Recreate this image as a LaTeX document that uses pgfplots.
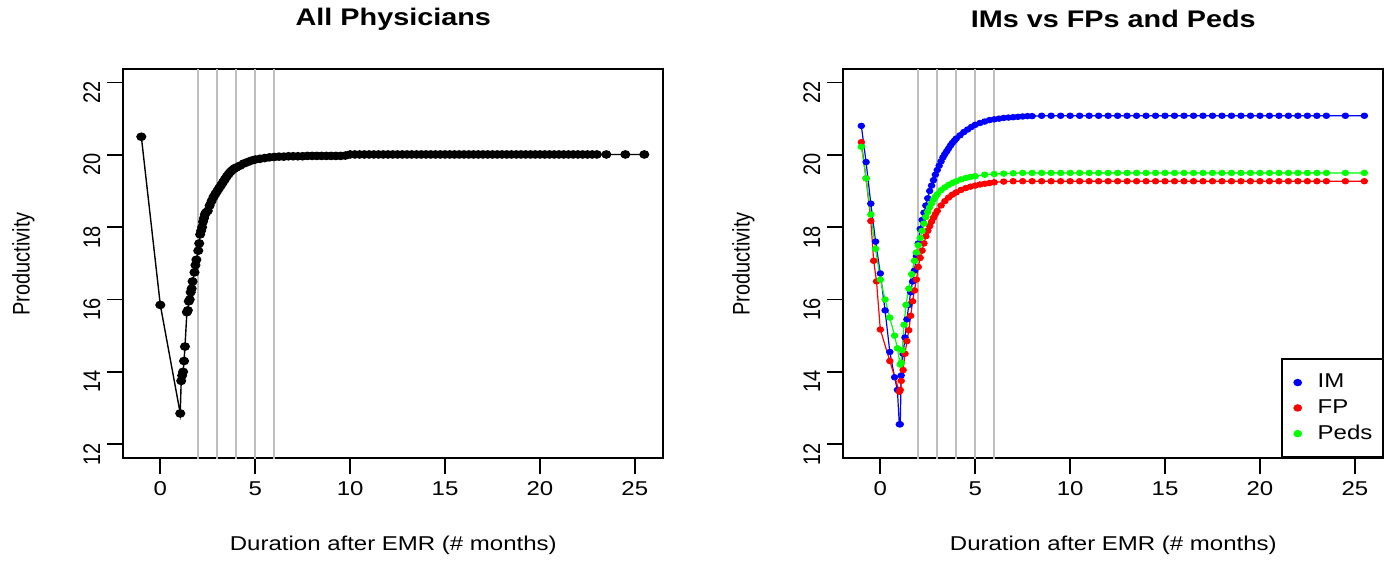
\documentclass[border=0pt]{standalone}
\usepackage{fontspec}
\setmainfont{Liberation Sans}
\usepackage{graphicx}
\usepackage{pgfplots}
\pgfplotsset{compat=1.18}

\definecolor{rblue}{RGB}{0,0,255}
\definecolor{rred}{RGB}{255,0,0}
\definecolor{rgreen}{RGB}{0,255,0}
\definecolor{rgray}{RGB}{190,190,190}

% the reference is stretched sideways a little
\newcommand{\hs}[1]{\scalebox{1.2}[1]{#1}}
\newcommand{\vs}[1]{\scalebox{1}[1.2]{#1}}

\pgfplotsset{
  rbase/.style={
    scale only axis, width=270pt, height=194.6pt,
    anchor=south west,
    xmin=-1.95, xmax=26.5, ymin=11.61, ymax=22.37,
    xtick={0,5,...,25}, ytick={12,14,...,22},
    tick align=outside, tick pos=left,
    major tick length=8pt,
    axis line style={line width=0.9pt},
    every tick/.style={line width=0.9pt, black},
    /pgf/number format/assume math mode=true,
    font=\fontsize{10}{12}\selectfont,
    xticklabel={\hs{\pgfmathprintnumber{\tick}}},
    yticklabel={\vs{\pgfmathprintnumber{\tick}}},
    yticklabel style={rotate=90, anchor=south, xshift=-5pt},
    every axis title/.style={at={(0.5,1)}, anchor=center, yshift=25pt,
      font=\bfseries\fontsize{12}{14}\selectfont},
    every axis x label/.style={at={(0.5,0)}, anchor=center, yshift=-43.5pt},
    every axis y label/.style={at={(0,0.5)}, anchor=center, xshift=-50pt, rotate=90},
    xlabel={\hs{Duration after EMR (\# months)}},
    ylabel={\vs{Productivity}},
  },
  vline/.style={rgray, line width=0.9pt, forget plot},
}

\begin{document}
\begin{tikzpicture}
\useasboundingbox (0,0) rectangle (698pt,280.5pt);

% ---- left: all physicians
\begin{axis}[rbase, at={(61.65pt,51.35pt)}, title={\hs{All Physicians}}]
\addplot[vline] coordinates {(2,10) (2,24)};
\addplot[vline] coordinates {(3,10) (3,24)};
\addplot[vline] coordinates {(4,10) (4,24)};
\addplot[vline] coordinates {(5,10) (5,24)};
\addplot[vline] coordinates {(6,10) (6,24)};
\addplot[black, line width=0.7pt, mark=*, mark size=1.8pt, mark options={xscale=1.2}] coordinates {
(-1,20.5) (0,15.85) (1.05,12.85) (1.1,13.75) (1.15,13.9) (1.2,14.0) (1.25,14.3) (1.3,14.7)
(1.4,15.65) (1.45,15.7) (1.5,15.95) (1.55,16.0) (1.6,16.2) (1.65,16.3) (1.7,16.5) (1.8,16.75)
(1.85,16.95) (1.9,17.1) (2.0,17.35) (2.05,17.55) (2.1,17.8) (2.15,17.9) (2.2,18.0) (2.25,18.15)
(2.3,18.25) (2.35,18.35) (2.4,18.4) (2.5,18.45) (2.6,18.6) (2.7,18.72) (2.8,18.83) (2.9,18.92)
(3.0,19.0) (3.1,19.08) (3.2,19.16) (3.3,19.24) (3.4,19.32) (3.5,19.4) (3.6,19.47) (3.7,19.53)
(3.8,19.58) (3.9,19.62) (4.0,19.65) (4.2,19.7) (4.4,19.76) (4.6,19.8) (4.8,19.84) (5.0,19.87)
(5.25,19.89) (5.5,19.91) (5.75,19.93) (6.0,19.94) (6.25,19.95) (6.5,19.95) (6.75,19.96) (7,19.96)
(7.25,19.96) (7.5,19.96) (7.75,19.97) (8,19.97) (8.25,19.97) (8.5,19.97) (8.75,19.97) (9,19.97)
(9.25,19.97) (9.5,19.97) (9.75,19.98) (10,20.01) (10.25,20.01) (10.5,20.01) (10.75,20.01) (11,20.01)
(11.25,20.01) (11.5,20.01) (11.75,20.01) (12,20.01) (12.25,20.01) (12.5,20.01) (12.75,20.01) (13,20.01)
(13.25,20.01) (13.5,20.01) (13.75,20.01) (14,20.01) (14.25,20.01) (14.5,20.01) (14.75,20.01) (15,20.01)
(15.25,20.01) (15.5,20.01) (15.75,20.01) (16,20.01) (16.25,20.01) (16.5,20.01) (16.75,20.01) (17,20.01)
(17.25,20.01) (17.5,20.01) (17.75,20.01) (18,20.01) (18.25,20.01) (18.5,20.01) (18.75,20.01) (19,20.01)
(19.25,20.01) (19.5,20.01) (19.75,20.01) (20,20.01) (20.25,20.01) (20.5,20.01) (20.75,20.01) (21,20.01)
(21.25,20.01) (21.5,20.01) (21.75,20.01) (22,20.01) (22.25,20.01) (22.5,20.01) (22.75,20.01) (23,20.01)
(23.5,20.01) (24.5,20.01) (25.5,20.01)
};
\end{axis}

% ---- right: IMs vs FPs and Peds
\begin{axis}[rbase, at={(421.65pt,51.35pt)}, title={\hs{IMs vs FPs and Peds}},
  legend style={at={(1,0)}, anchor=south east, draw=black, line width=0.9pt,
    font=\fontsize{10}{12}\selectfont, inner xsep=3pt, inner ysep=5.5pt, row sep=0.3pt},
  legend image code/.code={\path[draw=none] (0pt,0pt) -- (13pt,0pt);
    \fill[#1] (5pt,0pt) ellipse [x radius=1.7pt, y radius=1.4pt];},
  legend cell align=left]
\addplot[vline] coordinates {(2,10) (2,24)};
\addplot[vline] coordinates {(3,10) (3,24)};
\addplot[vline] coordinates {(4,10) (4,24)};
\addplot[vline] coordinates {(5,10) (5,24)};
\addplot[vline] coordinates {(6,10) (6,24)};
% IM
\addplot[rblue, line width=0.6pt, mark=*, mark size=1.3pt, mark options={xscale=1.2}, forget plot] coordinates {
(-1,20.8) (-0.75,19.8) (-0.5,18.65) (-0.25,17.6) (0,16.72) (0.25,15.7) (0.5,14.55) (0.75,13.85)
(0.9,13.5) (1.0,12.55) (1.05,12.55) (1.1,13.9) (1.2,14.5) (1.3,14.95) (1.4,15.45) (1.5,15.85)
(1.6,16.2) (1.7,16.5) (1.8,16.8) (1.9,17.2) (2.0,17.55) (2.1,17.95) (2.2,18.2) (2.3,18.4)
(2.4,18.6) (2.5,18.8) (2.6,19.0) (2.7,19.15) (2.8,19.3) (2.9,19.45) (3.0,19.58) (3.1,19.7)
(3.2,19.82) (3.3,19.93) (3.4,20.02) (3.5,20.1) (3.6,20.18) (3.7,20.26) (3.8,20.33) (3.9,20.39)
(4.0,20.45) (4.2,20.54) (4.4,20.63) (4.6,20.7) (4.8,20.77) (5.0,20.83) (5.25,20.88) (5.5,20.92)
(5.75,20.96) (6.0,20.98) (6.25,21.0) (6.5,21.02) (6.75,21.03) (7.0,21.04) (7.25,21.05) (7.5,21.06)
(7.75,21.07) (8,21.07) (8.5,21.08) (9,21.08) (9.5,21.08) (10,21.08) (10.5,21.08) (11,21.08)
(11.5,21.08) (12,21.08) (12.5,21.08) (13,21.08) (13.5,21.08) (14,21.08) (14.5,21.08) (15,21.08)
(15.5,21.08) (16,21.08) (16.5,21.08) (17,21.08) (17.5,21.08) (18,21.08) (18.5,21.08) (19,21.08)
(19.5,21.08) (20,21.08) (20.5,21.08) (21,21.08) (21.5,21.08) (22,21.08) (22.5,21.08) (23,21.08)
(23.5,21.08) (24.5,21.08) (25.5,21.08)
};
% FP
\addplot[rred, line width=0.6pt, mark=*, mark size=1.3pt, mark options={xscale=1.2}, forget plot] coordinates {
(-1,20.35) (-0.75,19.35) (-0.5,18.17) (-0.35,17.07) (-0.2,16.5) (0,15.17) (0.5,14.3) (1.0,13.45)
(1.05,13.5) (1.1,13.75) (1.2,14.05) (1.3,14.5) (1.4,14.85) (1.5,15.15) (1.6,15.55) (1.7,15.95)
(1.8,16.25) (1.9,16.55) (2.0,16.9) (2.1,17.15) (2.2,17.35) (2.3,17.55) (2.4,17.75) (2.5,17.9)
(2.6,18.03) (2.7,18.15) (2.8,18.26) (2.9,18.36) (3.0,18.45) (3.2,18.6) (3.4,18.72) (3.6,18.82)
(3.8,18.9) (4.0,18.96) (4.25,19.03) (4.5,19.08) (4.75,19.12) (5.0,19.15) (5.25,19.18) (5.5,19.2)
(5.75,19.22) (6.0,19.24) (6.5,19.26) (7,19.27) (7.5,19.27) (8,19.27) (8.5,19.27) (9,19.27)
(9.5,19.27) (10,19.27) (10.5,19.27) (11,19.27) (11.5,19.27) (12,19.27) (12.5,19.27) (13,19.27)
(13.5,19.27) (14,19.27) (14.5,19.27) (15,19.27) (15.5,19.27) (16,19.27) (16.5,19.27) (17,19.27)
(17.5,19.27) (18,19.27) (18.5,19.27) (19,19.27) (19.5,19.27) (20,19.27) (20.5,19.27) (21,19.27)
(21.5,19.27) (22,19.27) (22.5,19.27) (23,19.27) (23.5,19.27) (24.5,19.27) (25.5,19.27)
};
% Peds
\addplot[rgreen, line width=0.6pt, mark=*, mark size=1.3pt, mark options={xscale=1.2}, forget plot] coordinates {
(-1,20.22) (-0.75,19.35) (-0.5,18.35) (-0.25,17.4) (0,16.55) (0.25,16.0) (0.5,15.5) (0.75,15.0)
(0.9,14.65) (1.05,14.2) (1.1,14.25) (1.15,14.6) (1.25,15.3) (1.35,15.85) (1.5,16.3) (1.65,16.7)
(1.8,17.07) (1.9,17.3) (2.0,17.5) (2.1,17.7) (2.2,17.9) (2.3,18.1) (2.4,18.28) (2.5,18.42)
(2.6,18.55) (2.7,18.66) (2.8,18.76) (2.9,18.84) (3.0,18.91) (3.2,19.02) (3.4,19.1) (3.6,19.17)
(3.8,19.22) (4.0,19.27) (4.25,19.32) (4.5,19.36) (4.75,19.39) (5.0,19.41) (5.5,19.45) (6.0,19.47)
(6.5,19.48) (7.0,19.49) (7.5,19.5) (8,19.5) (8.5,19.5) (9,19.5) (9.5,19.5) (10,19.5)
(10.5,19.5) (11,19.5) (11.5,19.5) (12,19.5) (12.5,19.5) (13,19.5) (13.5,19.5) (14,19.5)
(14.5,19.5) (15,19.5) (15.5,19.5) (16,19.5) (16.5,19.5) (17,19.5) (17.5,19.5) (18,19.5)
(18.5,19.5) (19,19.5) (19.5,19.5) (20,19.5) (20.5,19.5) (21,19.5) (21.5,19.5) (22,19.5)
(22.5,19.5) (23,19.5) (23.5,19.5) (24.5,19.5) (25.5,19.5)
};
\addlegendimage{rblue}
\addlegendentry{\hs{IM}}
\addlegendimage{rred}
\addlegendentry{\hs{FP}}
\addlegendimage{rgreen}
\addlegendentry{\hs{Peds}}
\end{axis}
\end{tikzpicture}
\end{document}
